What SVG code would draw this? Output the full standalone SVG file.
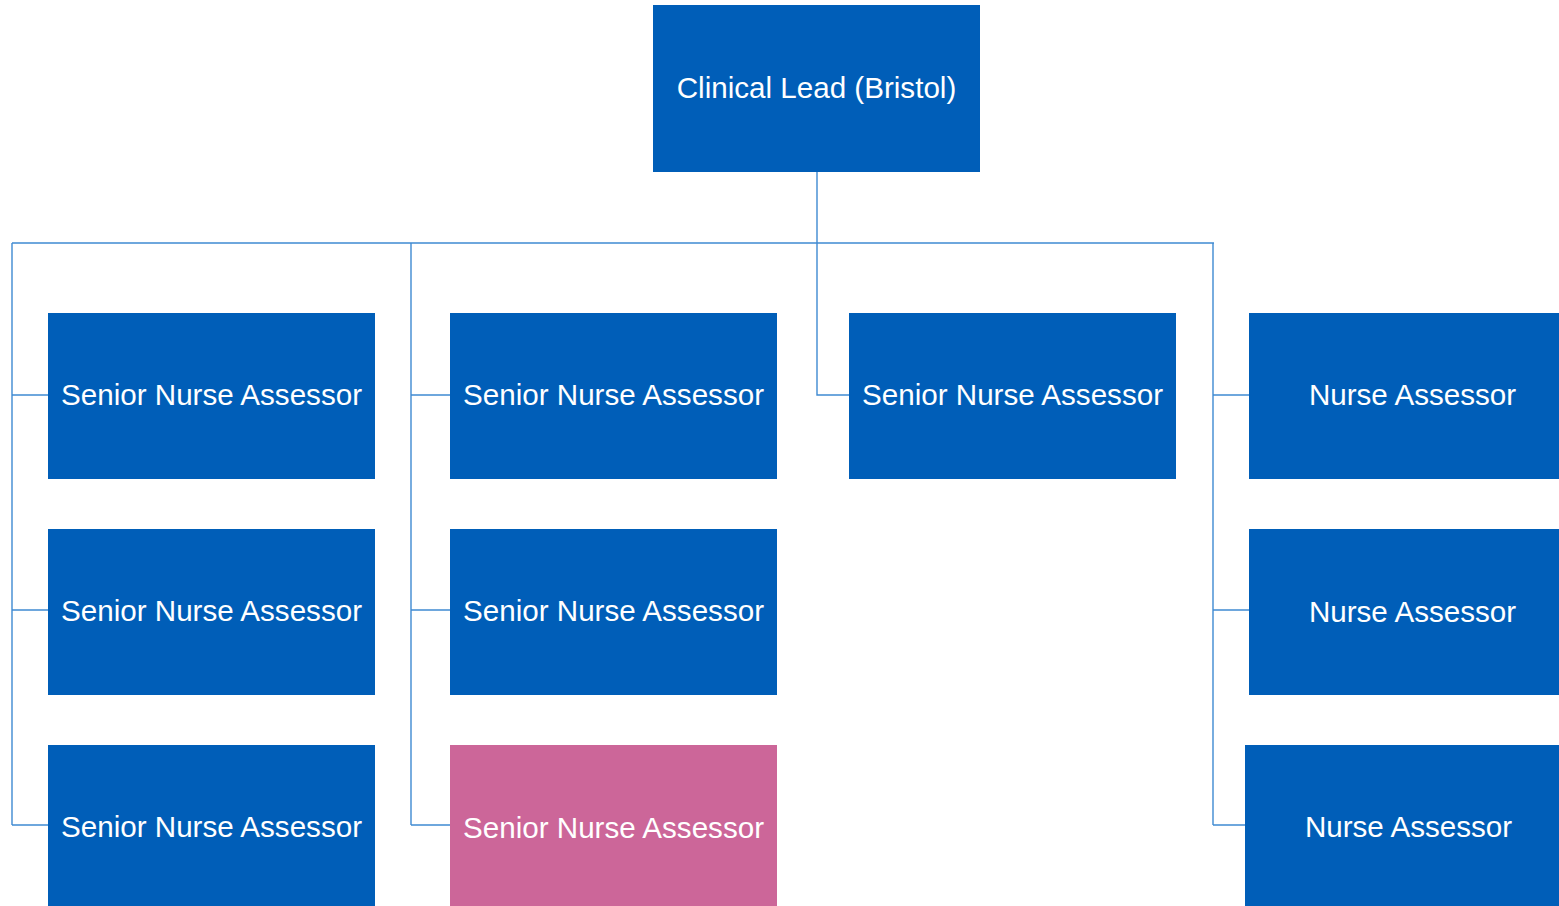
<svg xmlns="http://www.w3.org/2000/svg" width="1559" height="906" viewBox="0 0 1559 906">
<style>
.box{fill:#005EB8}
.pink{fill:#CC6699}
.lbl{font-family:"Liberation Sans",Arial,sans-serif;font-size:29.6px;fill:#ffffff;text-anchor:middle}
.con{fill:none;stroke:#3F8AD2;stroke-width:1.4}
</style>
<rect width="1559" height="906" fill="#ffffff"/>
<g id="connectors">
<path class="con" d="M817,172 V243 M12,243 H1214"/>
<path class="con" d="M12,243 V825 M12,395 H48 M12,610 H48 M12,825 H48"/>
<path class="con" d="M411,243 V825 M411,395 H450 M411,610 H450 M411,825 H450"/>
<path class="con" d="M817,243 V395 H849"/>
<path class="con" d="M1213,243 V825 M1213,395 H1249 M1213,610 H1249 M1213,825 H1245"/>
</g>
<g id="n0"><rect class="box" x="653" y="5" width="327" height="167"/><text class="lbl" x="816.5" y="98">Clinical Lead (Bristol)</text></g>
<g id="n1"><rect class="box" x="48" y="313" width="327" height="166"/><text class="lbl" x="211.5" y="405">Senior Nurse Assessor</text></g>
<g id="n2"><rect class="box" x="48" y="529" width="327" height="166"/><text class="lbl" x="211.5" y="621">Senior Nurse Assessor</text></g>
<g id="n3"><rect class="box" x="48" y="745" width="327" height="166"/><text class="lbl" x="211.5" y="837">Senior Nurse Assessor</text></g>
<g id="n4"><rect class="box" x="450" y="313" width="327" height="166"/><text class="lbl" x="613.5" y="405">Senior Nurse Assessor</text></g>
<g id="n5"><rect class="box" x="450" y="529" width="327" height="166"/><text class="lbl" x="613.5" y="621">Senior Nurse Assessor</text></g>
<g id="n6"><rect class="pink" x="450" y="745" width="327" height="166"/><text class="lbl" x="613.5" y="838">Senior Nurse Assessor</text></g>
<g id="n7"><rect class="box" x="849" y="313" width="327" height="166"/><text class="lbl" x="1012.5" y="405">Senior Nurse Assessor</text></g>
<g id="n8"><rect class="box" x="1249" y="313" width="327" height="166"/><text class="lbl" x="1412.5" y="405">Nurse Assessor</text></g>
<g id="n9"><rect class="box" x="1249" y="529" width="327" height="166"/><text class="lbl" x="1412.5" y="622">Nurse Assessor</text></g>
<g id="n10"><rect class="box" x="1245" y="745" width="327" height="166"/><text class="lbl" x="1408.5" y="837">Nurse Assessor</text></g>
</svg>
